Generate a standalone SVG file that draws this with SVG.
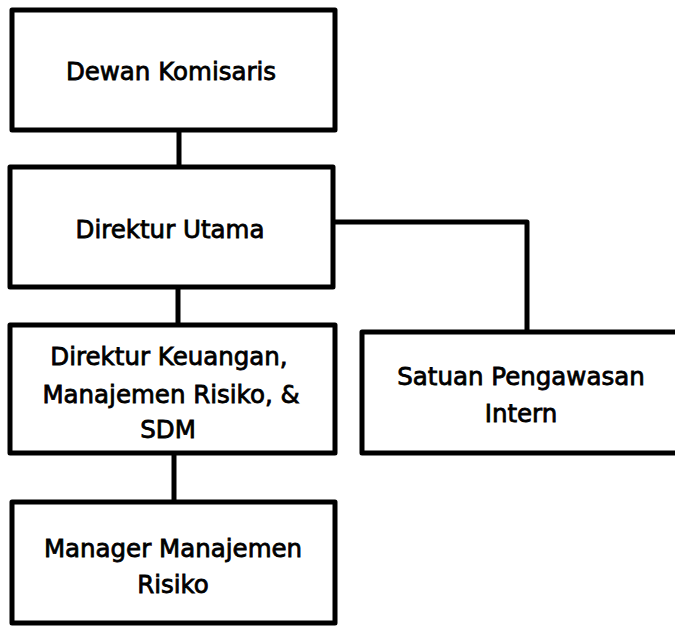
<svg xmlns="http://www.w3.org/2000/svg" width="675" height="630" viewBox="0 0 675 630">
<style>
.box{fill:#fff;stroke:#000;stroke-width:5;stroke-linejoin:round}
.con{fill:none;stroke:#000;stroke-width:5;stroke-linejoin:round}
.t{font-family:"DejaVu Sans","Verdana",sans-serif;font-size:24.5px;fill:#000;stroke:#000;stroke-width:0.8;text-anchor:middle}
</style>
<rect width="675" height="630" fill="#fff"/>
<g id="connectors">
<line class="con" x1="179" y1="130" x2="179" y2="167"/>
<polyline class="con" points="333,222 527,222 527,332"/>
<line class="con" x1="178" y1="287" x2="178" y2="325"/>
<line class="con" x1="174" y1="453" x2="174" y2="502"/>
</g>
<g id="dewan-komisaris">
<rect class="box" x="12" y="10" width="323" height="120"/>
<text class="t" x="171" y="80">Dewan Komisaris</text>
</g>
<g id="direktur-utama">
<rect class="box" x="10" y="167" width="323" height="120"/>
<text class="t" x="170" y="238">Direktur Utama</text>
</g>
<g id="direktur-keuangan">
<rect class="box" x="10" y="325" width="325" height="128"/>
<text class="t" x="169" y="365">Direktur Keuangan,</text>
<text class="t" x="171" y="403">Manajemen Risiko, &amp;</text>
<text class="t" x="168" y="438">SDM</text>
</g>
<g id="manager-manajemen-risiko">
<rect class="box" x="12" y="502" width="323" height="121"/>
<text class="t" x="173" y="557">Manager Manajemen</text>
<text class="t" x="173" y="593">Risiko</text>
</g>
<g id="satuan-pengawasan-intern">
<rect class="box" x="362" y="332" width="340" height="121"/>
<text class="t" x="521" y="385">Satuan Pengawasan</text>
<text class="t" x="521" y="422">Intern</text>
</g>
</svg>
